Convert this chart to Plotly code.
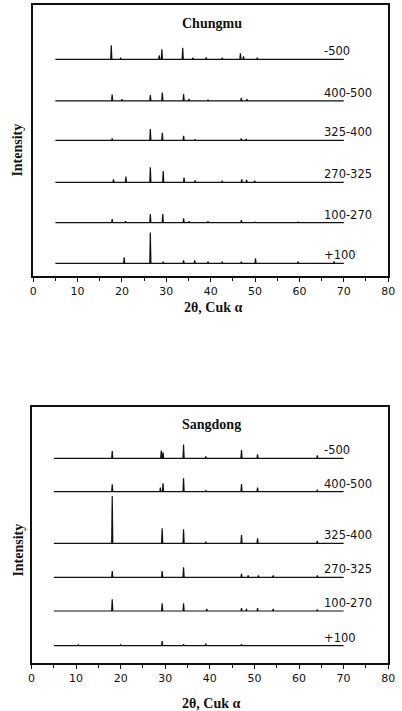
import plotly.graph_objects as go

# ---------------- data (2-theta, relative intensity) ----------------
x_start, x_end = 5, 70
sample_labels = ["-500", "400-500", "325-400", "270-325", "100-270", "+100"]

# Chungmu
ch_m500_pos = [17.6, 19.7, 28.4, 29.0, 33.7, 36.0, 39.0, 42.6, 46.7, 47.4, 50.5]
ch_m500_int = [14, 1, 4, 10, 11.5, 1.5, 2, 1.5, 6, 3, 1.5]
ch_400_pos = [17.8, 20.0, 26.4, 29.1, 33.9, 35.1, 39.4, 46.9, 48.2]
ch_400_int = [6.3, 1.5, 5.7, 8.3, 6.7, 2, 1, 3, 1.5]
ch_325_pos = [17.8, 26.4, 29.1, 33.9, 36.5, 46.9, 48.0]
ch_325_int = [2, 11.3, 7.7, 4.7, 1, 2, 1.5]
ch_270_pos = [18.1, 20.9, 26.4, 29.3, 34.0, 36.5, 42.6, 47.0, 48.1, 49.9]
ch_270_int = [3, 5.7, 15, 11.3, 4.7, 2, 1.5, 3, 2.5, 1.5]
ch_100_pos = [17.8, 20.8, 26.4, 29.2, 33.9, 35.1, 39.4, 46.9, 50.0, 59.7]
ch_100_int = [3.5, 1.5, 8.7, 8.7, 4.3, 1.5, 1.5, 2.5, 1, 1]
ch_p100_pos = [20.5, 26.4, 29.3, 33.9, 36.4, 39.4, 42.6, 46.9, 50.1, 59.7, 67.8]
ch_p100_int = [6, 30.7, 1.5, 3, 3, 2, 1.5, 1.5, 5, 2, 2]
ch_offsets = [204, 162.5, 122.9, 81, 40.6, 0]

# Sangdong
sd_m500_pos = [18.1, 29.1, 29.5, 34.1, 39.1, 47.1, 50.7, 64.1]
sd_m500_int = [7.3, 7.7, 6, 13.7, 2, 8.3, 4, 3]
sd_400_pos = [18.1, 28.9, 29.5, 34.1, 39.1, 47.1, 50.7, 64.1]
sd_400_int = [7.3, 4, 8.3, 13.3, 1.5, 7.7, 4, 2]
sd_325_pos = [18.1, 29.3, 34.1, 39.1, 47.1, 50.7, 64.1]
sd_325_int = [47.3, 15, 14, 1.5, 8.3, 5, 2.5]
sd_270_pos = [18.1, 29.3, 34.1, 47.1, 48.6, 50.9, 54.2, 64.1]
sd_270_int = [6.3, 6.3, 10, 3.5, 2, 2, 2, 2]
sd_100_pos = [18.1, 29.3, 34.1, 39.3, 47.1, 48.2, 50.7, 54.2, 64.1]
sd_100_int = [11.7, 7.7, 7.7, 2, 3, 2, 3, 2, 1.5]
sd_p100_pos = [10.5, 20.0, 29.3, 34.1, 39.1, 47.1]
sd_p100_int = [1, 1, 4.7, 1.5, 2, 1.5]
sd_offsets = [187.4, 154, 102.4, 68.4, 34.7, 0]

x_ticks = [0, 10, 20, 30, 40, 50, 60, 70, 80]

chungmu = [(ch_m500_pos, ch_m500_int), (ch_400_pos, ch_400_int), (ch_325_pos, ch_325_int),
           (ch_270_pos, ch_270_int), (ch_100_pos, ch_100_int), (ch_p100_pos, ch_p100_int)]
sangdong = [(sd_m500_pos, sd_m500_int), (sd_400_pos, sd_400_int), (sd_325_pos, sd_325_int),
            (sd_270_pos, sd_270_int), (sd_100_pos, sd_100_int), (sd_p100_pos, sd_p100_int)]

# ---------------- figure ----------------
W, H = 402, 711
fig = go.Figure()
half_w = 0.13


def stick_pattern(pos, inten, off):
    xs, ys = [x_start], [off]
    for p, h in sorted(zip(pos, inten)):
        xs += [p - half_w, p, p + half_w]
        ys += [off, off + h, off]
    xs.append(x_end)
    ys.append(off)
    return xs, ys


for panel, offsets, xa, ya in [(chungmu, ch_offsets, "x", "y"), (sangdong, sd_offsets, "x2", "y2")]:
    for (pos, inten), off, lab in zip(panel, offsets, sample_labels):
        xs, ys = stick_pattern(pos, inten, off)
        fig.add_trace(go.Scatter(x=xs, y=ys, mode="lines", xaxis=xa, yaxis=ya,
                                 line=dict(color="#111111", width=1.2), showlegend=False,
                                 hoverinfo="skip"))
        fig.add_annotation(x=65.1, y=off + 8, xref=xa, yref=ya, text=lab, showarrow=False,
                           xanchor="left", yanchor="middle",
                           font=dict(family="DejaVu Sans", size=11.5, color="#111"))

axis_common = dict(range=[0, 80], tickvals=x_ticks, ticks="outside", ticklen=4, tickwidth=1.4,
                   tickcolor="#111", showline=True, linecolor="#111", linewidth=1.8, mirror=True,
                   showgrid=False, zeroline=False, ticklabeloverflow="allow",
                   minor=dict(dtick=5, ticks="outside", ticklen=3, tickcolor="#111", tick0=0),
                   tickfont=dict(family="DejaVu Sans", size=11, color="#111"))
yaxis_common = dict(showticklabels=False, ticks="", showline=True, linecolor="#111", linewidth=1.5,
                    mirror=True, showgrid=False, zeroline=False)

fig.update_layout(
    width=W, height=H, autosize=False, margin=dict(l=0, r=0, t=0, b=0),
    paper_bgcolor="white", plot_bgcolor="white",
    xaxis=dict(domain=[30 / W, 395 / W], anchor="y", **axis_common),
    yaxis=dict(domain=[1 - 276 / H, 1 - 5 / H], range=[-12.7, 258.3], anchor="x", **yaxis_common),
    xaxis2=dict(domain=[28.3 / W, 395 / W], anchor="y2", **axis_common),
    yaxis2=dict(domain=[1 - 663.3 / H, 1 - 406.7 / H], range=[-17.6, 239], anchor="x2", **yaxis_common),
)

serif_bold = dict(family="Liberation Serif", size=14, color="#111")
for txt, px, py in [("<b>Chungmu</b>", 214, 23.3), ("<b>Sangdong</b>", 213, 425),
                    ("<b>2θ, Cuk α</b>", 215, 307), ("<b>2θ, Cuk α</b>", 213, 703)]:
    fig.add_annotation(x=px / W, y=1 - py / H, xref="paper", yref="paper", text=txt,
                       showarrow=False, xanchor="center", yanchor="middle", font=serif_bold)
for py in [150, 550]:
    fig.add_annotation(x=14 / W, y=1 - py / H, xref="paper", yref="paper", text="<b>Intensity</b>",
                       textangle=-90, showarrow=False, xanchor="center", yanchor="middle",
                       font=serif_bold)

fig.write_html(
    "out.html",
    config={"displayModeBar": False, "responsive": False},
    post_script=("document.documentElement.style.overflow='hidden';"
                 "document.body.style.margin='0';document.body.style.overflow='hidden';"
                 "Plotly.relayout('{plot_id}', {width: 402, height: 711});"),
)
